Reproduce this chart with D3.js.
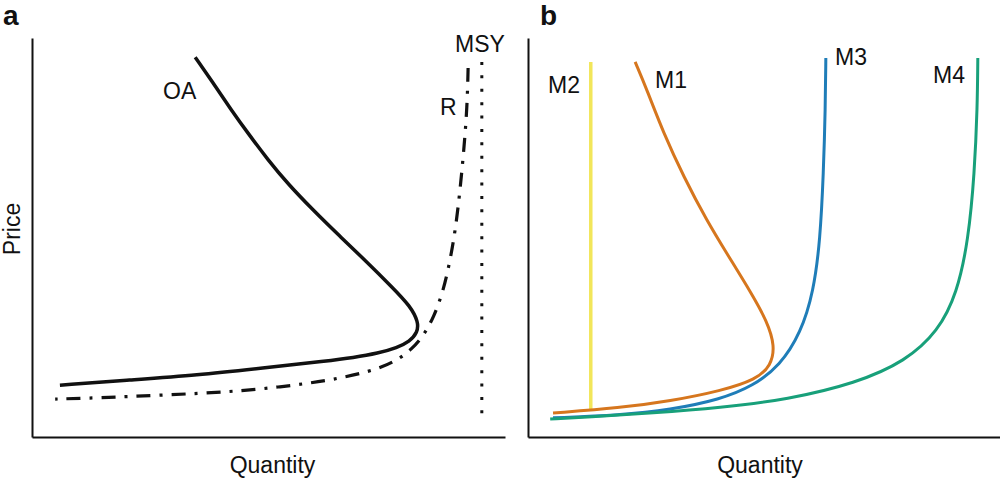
<!DOCTYPE html>
<html>
<head>
<meta charset="utf-8">
<script src="https://cdn.jsdelivr.net/npm/d3@7"></script>
<style>
  body { margin: 0; background: #fff; }
  text { font-family: "Liberation Sans", Arial, sans-serif; fill: #111; }
</style>
</head>
<body>
<svg width="1000" height="479"></svg>
<script>
// panel a: open access (OA), regulated (R), MSY
const oaX = [34.5, 38.3, 42.0, 45.8, 49.8, 54.2, 59.4, 65.0, 70.7, 76.1, 80.0, 81.7, 81.5, 79.8, 77.2, 73.2, 67.9, 62.5, 48.8, 34.9, 20.7, 5.9];
const oaY = [95.2, 88.7, 82.2, 75.9, 69.6, 63.3, 56.9, 50.4, 44.0, 37.6, 32.8, 28.8, 26.2, 23.9, 22.4, 21.0, 19.9, 19.1, 17.3, 15.5, 14.3, 13.0];
const rX = [92.2, 92.0, 91.3, 90.5, 89.6, 88.4, 86.9, 85.0, 82.8, 80.2, 77.4, 74.0, 70.2, 63.0, 52.4, 41.9, 27.7, 13.7, 4.9];
const rY = [92.5, 82.7, 71.9, 61.9, 52.6, 44.2, 36.4, 30.2, 25.4, 21.9, 19.4, 17.5, 16.1, 14.2, 12.5, 11.3, 10.5, 9.8, 9.5];
const msyX = [95.1, 95.1];
const msyY = [94.0, 4.8];

// panel b: management scenarios
const m1X = [22.7, 25.2, 28.7, 33.0, 37.8, 42.6, 47.2, 50.7, 52.3, 51.5, 48.3, 41.0, 30.1, 19.5, 5.3];
const m1Y = [94.0, 87.0, 76.2, 65.2, 54.4, 45.1, 36.3, 28.9, 22.8, 17.9, 14.4, 11.6, 9.0, 7.3, 6.0];
const m2X = [13.3, 13.3];
const m2Y = [94.0, 6.8];
const m3X = [63.1, 63.0, 62.6, 61.9, 60.5, 57.8, 53.4, 47.7, 40.7, 30.1, 19.5, 5.3];
const m3Y = [95.0, 82.7, 66.2, 49.4, 36.4, 26.1, 17.9, 12.8, 9.4, 6.8, 5.5, 4.8];
const m4X = [95.3, 95.2, 94.6, 93.3, 90.9, 86.9, 80.0, 69.5, 55.0, 40.7, 26.5, 12.5, 4.7];
const m4Y = [95.0, 82.7, 66.2, 49.4, 36.0, 26.5, 19.0, 13.5, 9.4, 7.3, 6.0, 5.0, 4.5];

const svg = d3.select("svg");

const xa = d3.scaleLinear().domain([0, 100]).range([32, 505]);
const xb = d3.scaleLinear().domain([0, 100]).range([528, 1000]);
const y = d3.scaleLinear().domain([0, 100]).range([437, 38]);

const zip = (xs, ys) => xs.map((v, i) => [v, ys[i]]);

function drawAxes(x) {
    svg.append("g")
        .attr("transform", `translate(0,${y(0)})`)
        .call(d3.axisBottom(x).ticks(0).tickSize(0).tickSizeOuter(0))
        .call(g => g.select(".domain").attr("stroke", "#111").attr("stroke-width", 2));
    svg.append("g")
        .attr("transform", `translate(${x(0)},0)`)
        .call(d3.axisLeft(y).ticks(0).tickSize(0).tickSizeOuter(0))
        .call(g => g.select(".domain").attr("stroke", "#111").attr("stroke-width", 2));
}

function drawCurve(x, pts, color, width, dash) {
    const line = d3.line()
        .x(d => x(d[0]))
        .y(d => y(d[1]))
        .curve(d3.curveBasis);
    svg.append("path")
        .attr("d", line(pts))
        .attr("fill", "none")
        .attr("stroke", color)
        .attr("stroke-width", width)
        .attr("stroke-dasharray", dash || null);
}

drawAxes(xa);
drawAxes(xb);

// panel a
drawCurve(xa, zip(msyX, msyY), "#111", 3, "3,10.4");
drawCurve(xa, zip(rX, rY), "#111", 3.2, "14,9,3,9");
drawCurve(xa, zip(oaX, oaY), "#111", 3.5);

// panel b
drawCurve(xb, zip(m2X, m2Y), "#f2e65a", 3.5);
drawCurve(xb, zip(m1X, m1Y), "#d6761e", 3);
drawCurve(xb, zip(m3X, m3Y), "#1f7db8", 3);
drawCurve(xb, zip(m4X, m4Y), "#18a07a", 3);

// labels
const label = (px, py, txt, anchor) => svg.append("text")
    .attr("x", px).attr("y", py)
    .attr("font-size", 23)
    .attr("text-anchor", anchor || "start")
    .text(txt);

label(163, 99, "OA");
label(455, 52, "MSY");
label(440, 115, "R");
label(548, 93, "M2");
label(655, 88, "M1");
label(835, 65, "M3");
label(933, 83, "M4");

label((xa(0) + xa(100)) / 2 + 4, 473, "Quantity", "middle");
label((xb(0) + xb(100)) / 2 - 4, 473, "Quantity", "middle");

svg.append("text")
    .attr("transform", "translate(20,229) rotate(-90)")
    .attr("font-size", 23)
    .attr("text-anchor", "middle")
    .text("Price");

svg.append("text").attr("x", 3).attr("y", 25)
    .attr("font-size", 28).attr("font-weight", 900).text("a");
svg.append("text").attr("x", 540).attr("y", 25)
    .attr("font-size", 28).attr("font-weight", 900).text("b");
</script>
</body>
</html>
